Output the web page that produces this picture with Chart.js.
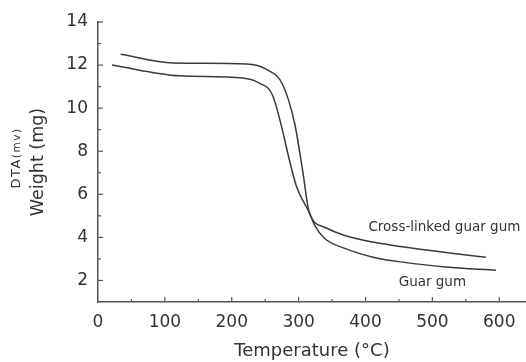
<!DOCTYPE html>
<html>
<head>
<meta charset="utf-8">
<script src="https://cdn.jsdelivr.net/npm/chart.js@4.4.1/dist/chart.umd.min.js"></script>
<style>
  html, body { margin: 0; padding: 0; background: #fff; }
  #wrap { width: 526px; height: 362px; }
</style>
</head>
<body>
<div id="wrap"><canvas id="tgaChart"></canvas></div>
<script>
// temperature (°C) / weight (mg)
var crossTemp   = [34, 112, 222, 252, 276, 294, 306, 316, 339, 369, 413, 458, 520, 580];
var crossWeight = [12.5, 12.1, 12.05, 11.8, 11.1, 9.3, 7.1, 5.15, 4.47, 4.09, 3.77, 3.55, 3.3, 3.08];
var guarTemp    = [21, 122, 216, 242, 261, 297, 316, 324, 339, 369, 413, 458, 520, 595];
var guarWeight  = [12.0, 11.5, 11.4, 11.15, 10.6, 6.35, 5.15, 4.56, 3.95, 3.49, 3.07, 2.84, 2.63, 2.47];

var xTicks = [0, 100, 200, 300, 400, 500, 600];
var yTicks = [2, 4, 6, 8, 10, 12, 14];

function toPoints(xs, ys) {
  return xs.map(function (x, i) { return { x: x, y: ys[i] }; });
}

var inkColor = '#3a3a3a';
var textColor = '#333';
var fontFam = '"DejaVu Sans", Verdana, sans-serif';

// inward tick marks + curve labels + small "DTA(mv)" text
var decorPlugin = {
  id: 'decor',
  afterDraw: function (chart) {
    var ctx = chart.ctx;
    var xs = chart.scales.x, ys = chart.scales.y;
    var area = chart.chartArea;
    ctx.save();
    ctx.strokeStyle = '#555';
    ctx.lineWidth = 1.2;
    for (var v = 50; v <= 600; v += 50) {
      var px = xs.getPixelForValue(v);
      var len = (v % 100 === 0) ? 5 : 3;
      ctx.beginPath();
      ctx.moveTo(px, area.bottom);
      ctx.lineTo(px, area.bottom - len);
      ctx.stroke();
    }
    for (var w = 2; w <= 14; w++) {
      var py = ys.getPixelForValue(w);
      var l = (w % 2 === 0) ? 5 : 3;
      ctx.beginPath();
      ctx.moveTo(area.left, py);
      ctx.lineTo(area.left + l, py);
      ctx.stroke();
    }

    ctx.fillStyle = textColor;
    ctx.font = '13.5px ' + fontFam;
    ctx.textAlign = 'center';
    ctx.textBaseline = 'middle';
    ctx.fillText('Cross-linked guar gum', xs.getPixelForValue(518), ys.getPixelForValue(4.47));
    ctx.fillText('Guar gum', xs.getPixelForValue(500), ys.getPixelForValue(1.9));

    // small DTA(mv) label, rotated
    ctx.translate(17, (area.top + area.bottom) / 2 - 4);
    ctx.rotate(-Math.PI / 2);
    ctx.textAlign = 'left';
    ctx.letterSpacing = '1.5px';
    ctx.font = '13px ' + fontFam;
    var w1 = ctx.measureText('DTA').width;
    ctx.font = '10.5px ' + fontFam;
    var w2 = ctx.measureText('(mv)').width;
    var start = -(w1 + w2) / 2;
    ctx.font = '13px ' + fontFam;
    ctx.fillText('DTA', start, 0);
    ctx.font = '10.5px ' + fontFam;
    ctx.fillText('(mv)', start + w1, 0);
    ctx.restore();
  }
};

var ctx = document.getElementById('tgaChart').getContext('2d');
var tgaChart = new Chart(ctx, {
  type: 'line',
  data: {
    datasets: [{
        label: 'Cross-linked guar gum',
        data: toPoints(crossTemp, crossWeight),
        borderColor: inkColor,
        borderWidth: 1.5,
        pointRadius: 0,
        fill: false,
        cubicInterpolationMode: 'monotone'
      },
      {
        label: 'Guar gum',
        data: toPoints(guarTemp, guarWeight),
        borderColor: inkColor,
        borderWidth: 1.5,
        pointRadius: 0,
        fill: false,
        cubicInterpolationMode: 'monotone'
      }
    ]
  },
  options: {
    responsive: true,
    maintainAspectRatio: false,
    animation: false,
    layout: { padding: { top: 22, right: 0, left: 0, bottom: 0 } },
    plugins: {
      legend: { display: false },
      tooltip: { enabled: false }
    },
    scales: {
      x: {
        type: 'linear',
        min: 0,
        max: 640,
        afterBuildTicks: function (scale) {
          scale.ticks = xTicks.map(function (v) { return { value: v }; });
        },
        afterFit: function (scale) { scale.height = 60; },
        ticks: {
          color: textColor,
          font: { family: fontFam, size: 17 },
          padding: 10,
          maxRotation: 0
        },
        grid: { drawOnChartArea: false, drawTicks: false },
        border: { display: true, color: '#555', width: 1.5 },
        title: {
          display: true,
          text: 'Temperature (°C)',
          color: textColor,
          font: { family: fontFam, size: 18 },
          padding: { top: 2, bottom: 0 }
        }
      },
      y: {
        type: 'linear',
        min: 1,
        max: 14,
        afterBuildTicks: function (scale) {
          scale.ticks = yTicks.map(function (v) { return { value: v }; });
        },
        afterFit: function (scale) { scale.width = 98; },
        ticks: {
          color: textColor,
          font: { family: fontFam, size: 17 },
          padding: 10
        },
        grid: { drawOnChartArea: false, drawTicks: false },
        border: { display: true, color: '#555', width: 1.5 },
        title: {
          display: true,
          text: 'Weight (mg)',
          color: textColor,
          font: { family: fontFam, size: 17.5 },
          padding: { top: 28, bottom: 0 }
        }
      }
    }
  },
  plugins: [decorPlugin]
});
</script>
</body>
</html>
